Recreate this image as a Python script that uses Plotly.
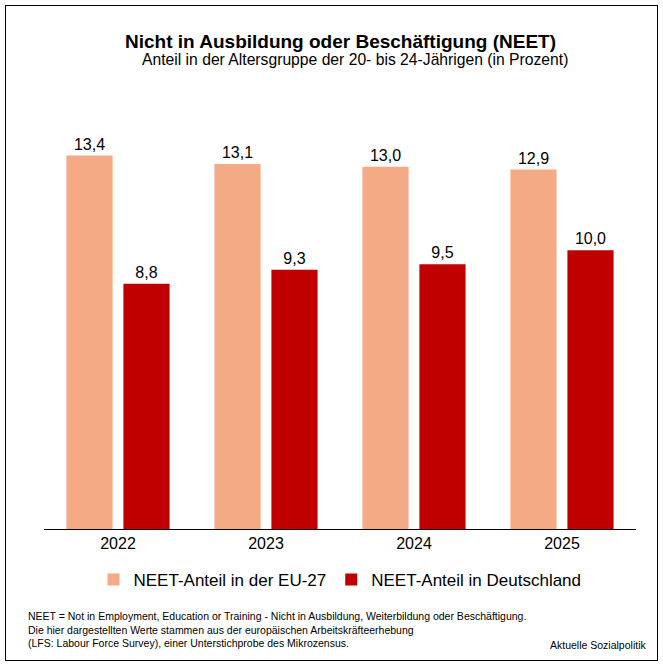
import plotly.graph_objects as go

years = ["2022", "2023", "2024", "2025"]
eu_values = [13.4, 13.1, 13.0, 12.9]
de_values = [8.8, 9.3, 9.5, 10.0]

W, H = 663, 665
L, R, T, B = 36, 35, 103, 144
pw, ph = W - L - R, H - T - B


def px(x):
    return (x - L) / pw


def py(y):
    return (H - B - y) / ph


def fmt(v):
    return f"{v:.1f}".replace(".", ",")


fig = go.Figure()
fig.add_trace(go.Bar(x=years, y=eu_values, name="NEET-Anteil in der EU-27",
                     marker_color="#F4AA84", text=[fmt(v) for v in eu_values],
                     textposition="outside", cliponaxis=False))
fig.add_trace(go.Bar(x=years, y=de_values, name="NEET-Anteil in Deutschland",
                     marker_color="#C00000", text=[fmt(v) for v in de_values],
                     textposition="outside", cliponaxis=False))
fig.update_traces(textfont=dict(size=16, color="black"), marker_line_width=0)

footer = ("NEET = Not in Employment, Education or Training - Nicht in Ausbildung, Weiterbildung oder Beschäftigung.<br>"
          "Die hier dargestellten Werte stammen aus der europäischen Arbeitskräfteerhebung<br>"
          "(LFS: Labour Force Survey), einer Unterstichprobe des Mikrozensus.")

fig.update_layout(
    width=W, height=H, margin=dict(l=L, r=R, t=T, b=B, autoexpand=False),
    paper_bgcolor="white", plot_bgcolor="white",
    font=dict(family="Liberation Sans, Arial", color="black"),
    barmode="group", bargap=0.23, bargroupgap=0.19,
    showlegend=True,
    legend=dict(orientation="h", x=0.5, xanchor="center", yref="container",
                y=1 - 572 / H, yanchor="middle", font=dict(size=17), traceorder="normal"),
    xaxis=dict(showline=True, linecolor="black", linewidth=1, ticks="",
               tickfont=dict(size=16)),
    yaxis=dict(range=[0, 15], visible=False),
    annotations=[
        dict(text="<b>Nicht in Ausbildung oder Beschäftigung (NEET)</b>", xref="paper", yref="paper",
             x=px(332), y=py(21), showarrow=False, font=dict(size=19)),
        dict(text="Anteil in der Altersgruppe der 20- bis 24-Jährigen (in Prozent)", xref="paper",
             yref="paper", x=px(347), y=py(41), showarrow=False, font=dict(size=15.7)),
        dict(text=footer, xref="paper", yref="paper", x=px(18), y=py(643), xanchor="left",
             align="left", showarrow=False, font=dict(size=10.5)),
        dict(text="Aktuelle Sozialpolitik", xref="paper", yref="paper", x=px(640), y=py(645),
             xanchor="right", showarrow=False, font=dict(size=10.5)),
    ],
)

border_js = ("var b = document.createElement('div');"
             "b.style.cssText = 'position:fixed;left:5px;top:5px;width:651px;height:654px;"
             "border:1px solid black;pointer-events:none;';"
             "document.body.appendChild(b);")
fig.write_html("out.html", post_script=border_js)
